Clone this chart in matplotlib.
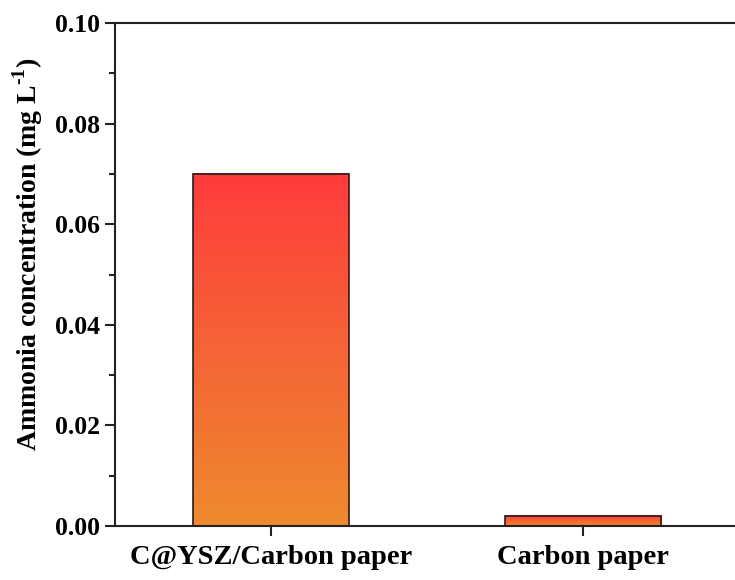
import numpy as np
import matplotlib
matplotlib.use("Agg")
import matplotlib.pyplot as plt
from matplotlib.colors import LinearSegmentedColormap
from matplotlib.ticker import MultipleLocator

categories = ["C@YSZ/Carbon paper", "Carbon paper"]
values = [0.070, 0.002]
y_ticks = [0.00, 0.02, 0.04, 0.06, 0.08, 0.10]

plt.rcParams["font.family"] = ["Liberation Serif", "DejaVu Serif"]
plt.rcParams["mathtext.fontset"] = "custom"
plt.rcParams["mathtext.rm"] = "Liberation Serif:bold"
plt.rcParams["mathtext.bf"] = "Liberation Serif:bold"

fig = plt.figure(figsize=(7.35, 5.8), dpi=100)
# axes deliberately extend past the right edge of the canvas
ax = fig.add_axes([115 / 735, 1 - 526 / 580, (739 - 115) / 735, (526 - 23) / 580])

grad = LinearSegmentedColormap.from_list("bar_grad", ["#EE8A2E", "#F56436", "#FF3C3C"])
bar_width = 0.5
x = np.arange(len(categories))

for xi, v in zip(x, values):
    img = np.linspace(0, 1, 256).reshape(-1, 1)
    ax.imshow(img, cmap=grad, origin="lower", aspect="auto",
              extent=[xi - bar_width / 2, xi + bar_width / 2, 0, v], zorder=2)
bars = ax.bar(x, values, width=bar_width, facecolor="none",
              edgecolor="#2a1c1c", linewidth=1.2, zorder=3)

ax.set_xlim(-0.5, 1.5)
ax.set_ylim(0, 0.10)
ax.set_yticks(y_ticks)
ax.set_yticklabels([f"{t:.2f}" for t in y_ticks])
ax.yaxis.set_minor_locator(MultipleLocator(0.01))
ax.set_xticks(x)
ax.set_xticklabels(categories)

for side in ["left", "bottom", "top", "right"]:
    ax.spines[side].set_linewidth(1.5)
    ax.spines[side].set_color("#222222")

ax.tick_params(axis="both", which="major", direction="out", length=7, width=1.5,
               pad=4, color="#222222")
ax.tick_params(axis="y", which="major", labelsize=18.5)
ax.tick_params(axis="y", which="minor", direction="out", length=4, width=1.5,
               color="#222222")
ax.tick_params(axis="x", which="major", labelsize=20.5, pad=7)
for lab in ax.get_xticklabels() + ax.get_yticklabels():
    lab.set_fontweight("bold")

ax.set_ylabel("Ammonia concentration (mg L$^{\\text{-}\\mathbf{1}}$)", fontsize=20,
              fontweight="bold", labelpad=7)
ax.yaxis.label.set_y(0.54)

fig.savefig("out.png", dpi=100)
